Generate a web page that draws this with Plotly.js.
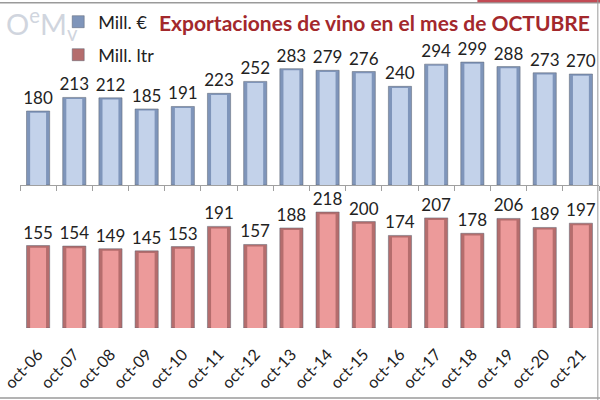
<!DOCTYPE html>
<html>
<head>
<meta charset="utf-8">
<script src="https://cdn.plot.ly/plotly-3.0.1.min.js"></script>
<style>
  html, body { margin: 0; padding: 0; background: #fff; }
  #chart { width: 600px; height: 400px; }
</style>
</head>
<body>
<div id="chart"></div>
<script>
// ---- data ----
const months = ['oct-06', 'oct-07', 'oct-08', 'oct-09', 'oct-10', 'oct-11', 'oct-12', 'oct-13',
                'oct-14', 'oct-15', 'oct-16', 'oct-17', 'oct-18', 'oct-19', 'oct-20', 'oct-21'];
const millEuro = [180, 213, 212, 185, 191, 223, 252, 283, 279, 276, 240, 294, 299, 288, 273, 270];
const millLtr  = [155, 154, 149, 145, 153, 191, 157, 188, 218, 200, 174, 207, 178, 206, 189, 197];

const FONT = 'Lato, "Open Sans", sans-serif';
const labelFont = { family: FONT, size: 17, color: '#222' };

// outer bar = dark bevel edge, inner bar = lighter face
function barPair(vals, xa, ya, edge, face, name, legend) {
  return [
    {
      type: 'bar', x: months, y: vals, xaxis: xa, yaxis: ya, name: name,
      width: 0.64, legend: legend,
      marker: { color: edge, line: { color: '#5a6270', width: 0.5 } },
      text: vals.map(String), textposition: 'outside', textfont: labelFont,
      constraintext: 'none', cliponaxis: false, hoverinfo: 'skip',
    },
    {
      type: 'bar', x: months, y: vals.map(v => v - 4), xaxis: xa, yaxis: ya,
      width: 0.44, showlegend: false, hoverinfo: 'skip',
      marker: { color: face, line: { width: 0 } },
    },
  ];
}

const traces = [
  ...barPair(millEuro, 'x', 'y', '#7f95ba', '#c3d2ea', 'Mill. €', 'legend'),
  ...barPair(millLtr, 'x2', 'y2', '#b56d6d', '#ec9a9a', 'Mill. ltr', 'legend2'),
];

const legendBase = {
  xanchor: 'left', yanchor: 'middle',
  bgcolor: 'rgba(0,0,0,0)', font: { family: FONT, size: 18, color: '#222' },
  itemwidth: 30,
};

const layout = {
  width: 600, height: 400,
  margin: { l: 20, r: 1, t: 0, b: 0, autoexpand: false },
  paper_bgcolor: '#fff', plot_bgcolor: 'rgba(0,0,0,0)',
  font: { family: FONT, color: '#222' },
  barmode: 'overlay',
  showlegend: true,
  legend: { ...legendBase, x: 0.066, y: 0.945 },
  legend2: { ...legendBase, x: 0.066, y: 0.8625 },
  xaxis: {
    domain: [0, 1], anchor: 'y', type: 'category',
    showline: true, linecolor: '#a0a0a0', linewidth: 1,
    ticks: 'outside', tickson: 'boundaries', ticklen: 5, tickcolor: '#a0a0a0',
    showticklabels: false, showgrid: false, zeroline: false,
  },
  yaxis: {
    domain: [0.5375, 0.9075], range: [0, 360], anchor: 'x',
    visible: false, showgrid: false, zeroline: false,
  },
  xaxis2: {
    domain: [0, 1], anchor: 'y2', type: 'category',
    showline: false, ticks: '', tickangle: -47, ticklabelstandoff: 13,
    tickfont: { family: FONT, size: 16, color: '#222' },
    showgrid: false, zeroline: false, automargin: false,
  },
  yaxis2: {
    domain: [0.18, 0.5125], range: [0, 250], anchor: 'x2',
    visible: false, showgrid: false, zeroline: false,
  },
  annotations: [
    {
      xref: 'paper', yref: 'paper', x: 0.2366, y: 0.945, xanchor: 'left', yanchor: 'middle',
      showarrow: false, text: '<b>Exportaciones de vino en el mes de OCTUBRE</b>',
      font: { family: FONT, size: 21, color: '#a3282c' },
    },
    {
      xref: 'paper', yref: 'paper', x: -0.028, y: 0.94, xanchor: 'left', yanchor: 'middle',
      showarrow: false, text: 'O<sup>e</sup>M<sub>v</sub>',
      font: { family: FONT, size: 29, color: '#d0d5de' },
    },
  ],
  shapes: [
    { type: 'line', xref: 'paper', yref: 'paper', x0: -0.035, x1: 1.01, y0: 0.993, y1: 0.993,
      line: { color: '#9a9a9a', width: 1.5 } },
    { type: 'line', xref: 'paper', yref: 'paper', x0: 0.79, x1: 1.01, y0: 0.998, y1: 0.998,
      line: { color: '#c24b55', width: 3 } },
    { type: 'line', xref: 'paper', yref: 'paper', x0: -0.035, x1: 1.01, y0: 0.005, y1: 0.005,
      line: { color: '#9a9a9a', width: 1.5 } },
    { type: 'line', xref: 'paper', yref: 'paper', x0: 0.998, x1: 0.998, y0: 0.0, y1: 1.0,
      line: { color: '#9a9a9a', width: 1 } },
  ],
};

Plotly.newPlot('chart', traces, layout, { displayModeBar: false, staticPlot: true });
</script>
</body>
</html>
